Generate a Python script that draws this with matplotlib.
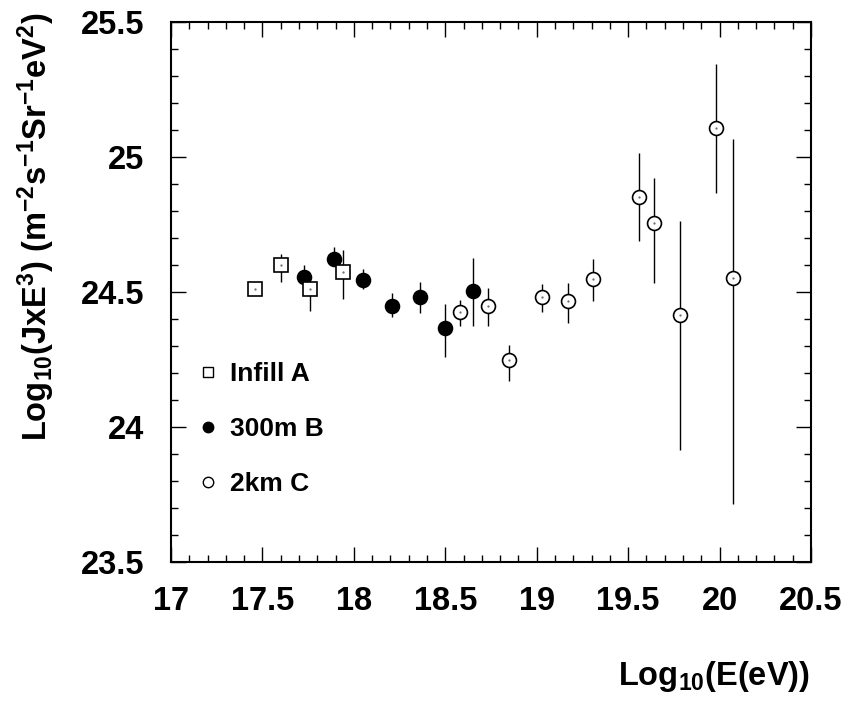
import matplotlib
matplotlib.use('Agg')
import matplotlib.pyplot as plt
from matplotlib.lines import Line2D
from matplotlib.ticker import MultipleLocator
import numpy as np

plt.rcParams['font.family'] = ['Liberation Sans', 'DejaVu Sans']
plt.rcParams['font.weight'] = 'bold'
plt.rcParams['mathtext.fontset'] = 'custom'
plt.rcParams['mathtext.bf'] = 'Liberation Sans:bold'
plt.rcParams['mathtext.rm'] = 'Liberation Sans:bold'
plt.rcParams['mathtext.it'] = 'Liberation Sans:bold'
plt.rcParams['mathtext.default'] = 'bf'

# Infill A
x_a = [17.46, 17.60, 17.76, 17.94]
y_a = [24.510, 24.600, 24.510, 24.575]
lo_a = [0.02, 0.063, 0.079, 0.102]
hi_a = [0.02, 0.040, 0.020, 0.081]

# 300m B
x_b = [17.73, 17.89, 18.05, 18.21, 18.36, 18.50, 18.65]
y_b = [24.557, 24.622, 24.544, 24.448, 24.480, 24.368, 24.505]
lo_b = [0.02, 0.02, 0.032, 0.042, 0.057, 0.108, 0.130]
hi_b = [0.043, 0.044, 0.040, 0.047, 0.056, 0.088, 0.122]

# 2km C
x_c = [18.58, 18.735, 18.85, 19.03, 19.17, 19.31, 19.56, 19.64, 19.785, 19.98, 20.075]
y_c = [24.425, 24.449, 24.247, 24.483, 24.468, 24.549, 24.853, 24.754, 24.414, 25.109, 24.553]
lo_c = [0.050, 0.074, 0.075, 0.056, 0.082, 0.081, 0.163, 0.220, 0.499, 0.243, 0.839]
hi_c = [0.045, 0.065, 0.056, 0.047, 0.064, 0.072, 0.161, 0.169, 0.349, 0.234, 0.513]

labels = ['Infill A', '300m B', '2km C']

fig = plt.figure(figsize=(8.5, 7.04), dpi=100)
ax = fig.add_axes([171 / 850, 1 - 562 / 704, 640 / 850, 540 / 704])

err_kw = dict(ls='none', ecolor='black', elinewidth=1.0, capsize=0)
ax.errorbar(x_b, y_b, yerr=[lo_b, hi_b], fmt='o', ms=10, mfc='black', mec='black',
            mew=1.2, zorder=3, **err_kw)
ax.errorbar(x_c, y_c, yerr=[lo_c, hi_c], fmt='o', ms=10, mfc='white', mec='black',
            mew=1.2, zorder=3, **err_kw)
ax.errorbar(x_a, y_a, yerr=[lo_a, hi_a], fmt='s', ms=10.5, mfc='white', mec='black',
            mew=1.2, zorder=4, **err_kw)
# small centre dots of the open markers
ax.plot(x_a + x_c, y_a + y_c, ls='none', marker='.', ms=1.2, color='0.4', zorder=5)

ax.set_xlim(17, 20.5)
ax.set_ylim(23.5, 25.5)
ax.xaxis.set_major_locator(MultipleLocator(0.5))
ax.xaxis.set_minor_locator(MultipleLocator(0.1))
ax.yaxis.set_major_locator(MultipleLocator(0.5))
ax.yaxis.set_minor_locator(MultipleLocator(0.1))
ax.set_xticks(np.arange(17, 20.51, 0.5))
ax.set_xticklabels(['17', '17.5', '18', '18.5', '19', '19.5', '20', '20.5'])
ax.set_yticks(np.arange(23.5, 25.51, 0.5))
ax.set_yticklabels(['23.5', '24', '24.5', '25', '25.5'])
ax.tick_params(which='both', direction='in', top=True, right=True, width=1.0)
ax.tick_params(which='major', length=11)
ax.tick_params(which='minor', length=5)
ax.tick_params(axis='x', which='major', labelsize=23.5, pad=17)
ax.tick_params(axis='y', which='major', labelsize=23.5, pad=19)
for s in ax.spines.values():
    s.set_linewidth(1.5)

fig.text(36 / 850, 1 - 13 / 704,
         r'Log$_{10}$(JxE$^{3}$) (m$^{-2}$s$^{-1}$Sr$^{-1}$eV$^{2}$)',
         rotation=90, ha='center', va='top', fontsize=23.5, fontweight='bold')
fig.text(810 / 850, 1 - 685 / 704, r'Log$_{10}$(E(eV))',
         ha='right', va='baseline', fontsize=23.5, fontweight='bold')

handles = [
    Line2D([], [], ls='none', marker='s', ms=7.5, mfc='white', mec='black', mew=1.0),
    Line2D([], [], ls='none', marker='o', ms=7.5, mfc='black', mec='black', mew=1.0),
    Line2D([], [], ls='none', marker='o', ms=7.5, mfc='white', mec='black', mew=1.0),
]
leg = ax.legend(handles, labels, loc='upper left', frameon=False, fontsize=19,
                handlelength=0.8, handletextpad=0.45, labelspacing=1.18,
                bbox_to_anchor=(197 / 850, 1 - 362 / 704), bbox_transform=fig.transFigure,
                borderaxespad=0, borderpad=0)

fig.savefig('out.png', dpi=100)
